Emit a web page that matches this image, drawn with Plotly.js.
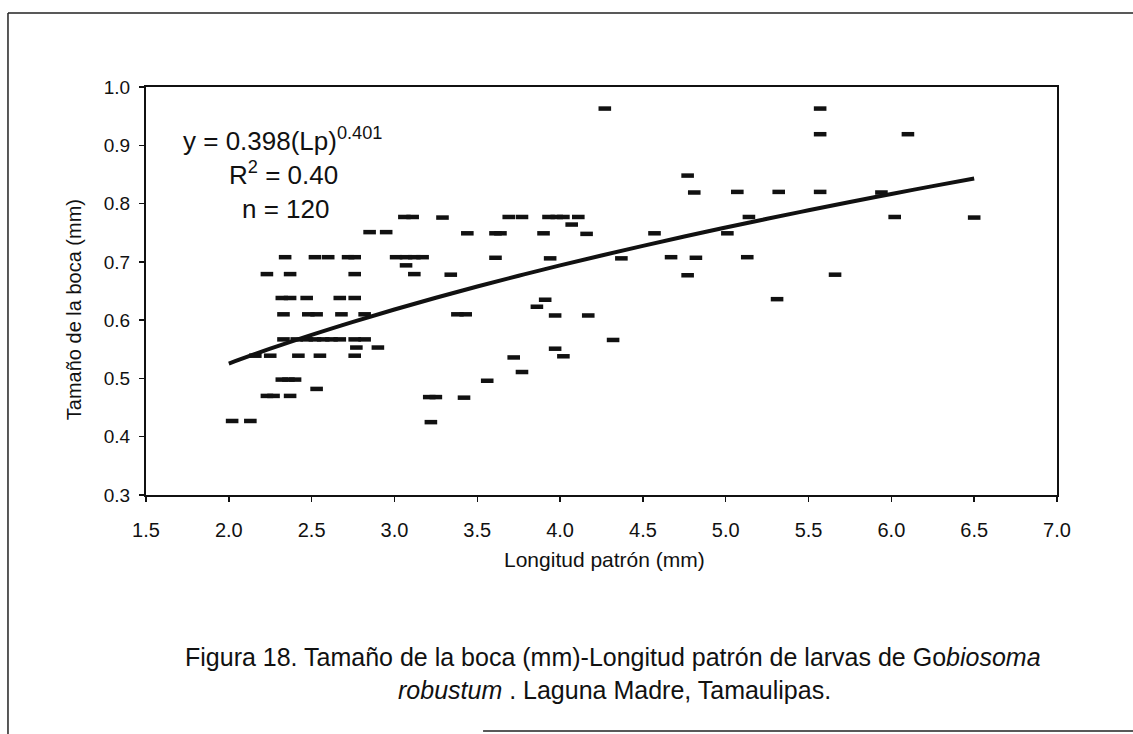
<!DOCTYPE html>
<html>
<head>
<meta charset="utf-8">
<script src="https://cdn.plot.ly/plotly-3.0.1.min.js"></script>
<style>
  html, body { margin: 0; padding: 0; background: #ffffff; }
  #chart { width: 1133px; height: 734px; }
</style>
</head>
<body>
<div id="chart"></div>
<script>
// Longitud patrón (mm) de cada larva medida
const longitudPatron = [
  2.02, 2.13,
  2.23, 2.27, 2.37,
  2.53,
  2.32, 2.36, 2.40,
  2.16, 2.25, 2.42, 2.55, 2.76,
  2.77, 2.90,
  2.33, 2.41, 2.47, 2.52, 2.57, 2.62, 2.67, 2.76, 2.82,
  2.33, 2.48, 2.53, 2.68, 2.82,
  2.32, 2.37, 2.47, 2.67, 2.76,
  2.23, 2.37, 2.76,
  2.34, 2.52, 2.60, 2.72, 2.76,
  2.85, 2.95,
  3.01, 3.07, 3.12, 3.17,
  3.07,
  3.12, 3.34,
  3.06, 3.11, 3.29,
  3.44,
  3.38, 3.43,
  3.21, 3.25, 3.42,
  3.22,
  3.69, 3.77, 3.93, 3.98, 4.02, 4.11,
  4.07,
  3.61, 3.64, 3.90, 4.16,
  3.61, 3.94, 4.37,
  3.91, 3.86, 3.97, 4.17,
  4.32, 3.97, 4.02, 3.72, 3.77, 3.56,
  4.27,
  4.57, 4.67, 4.77, 4.77, 4.81, 4.82,
  5.01, 5.07, 5.13, 5.14, 5.31, 5.32,
  5.57, 5.57, 5.57, 5.66,
  5.94, 6.02, 6.10, 6.50
];

// Tamaño de la boca (mm) de cada larva, en el mismo orden
const tamanoBoca = [
  0.427, 0.427,
  0.470, 0.470, 0.470,
  0.482,
  0.498, 0.498, 0.498,
  0.539, 0.539, 0.539, 0.539, 0.539,
  0.553, 0.553,
  0.567, 0.567, 0.567, 0.567, 0.567, 0.567, 0.567, 0.567, 0.567,
  0.610, 0.610, 0.610, 0.610, 0.610,
  0.638, 0.638, 0.638, 0.638, 0.638,
  0.679, 0.679, 0.679,
  0.708, 0.708, 0.708, 0.708, 0.708,
  0.751, 0.751,
  0.708, 0.708, 0.708, 0.708,
  0.694,
  0.679, 0.678,
  0.777, 0.777, 0.776,
  0.749,
  0.610, 0.610,
  0.468, 0.468, 0.467,
  0.425,
  0.777, 0.777, 0.777, 0.777, 0.777, 0.777,
  0.764,
  0.749, 0.749, 0.749, 0.748,
  0.707, 0.706, 0.706,
  0.635, 0.623, 0.608, 0.608,
  0.566, 0.551, 0.538, 0.536, 0.511, 0.496,
  0.963,
  0.749, 0.708, 0.848, 0.677, 0.819, 0.707,
  0.749, 0.820, 0.708, 0.777, 0.636, 0.820,
  0.963, 0.919, 0.820, 0.678,
  0.819, 0.777, 0.919, 0.776
];

// Ajuste potencial: y = a * (Lp)^b, trazado sobre el intervalo de longitudes medidas
const ajusteA = 0.398;
const ajusteB = 0.401;
const ajusteX = [2.0, 2.25, 2.5, 2.75, 3.0, 3.25, 3.5, 3.75, 4.0, 4.25, 4.5, 4.75, 5.0, 5.25, 5.5, 5.75, 6.0, 6.25, 6.5];
const ajusteY = ajusteX.map(function (x) { return ajusteA * Math.pow(x, ajusteB); });

// Marcas de los ejes
const ticksX = [1.5, 2.0, 2.5, 3.0, 3.5, 4.0, 4.5, 5.0, 5.5, 6.0, 6.5, 7.0];
const ticksY = [0.3, 0.4, 0.5, 0.6, 0.7, 0.8, 0.9, 1.0];
const etiquetasX = ticksX.map(function (v) { return v.toFixed(1); });
const etiquetasY = ticksY.map(function (v) { return v.toFixed(1); });

const FUENTE = 'Liberation Sans, Arial, Helvetica, sans-serif';
const TINTA = '#111111';

const trazas = [
  {
    type: 'scatter',
    mode: 'lines',
    x: ajusteX,
    y: ajusteY,
    line: { color: TINTA, width: 4, shape: 'spline' },
    hoverinfo: 'skip',
    showlegend: false
  },
  {
    type: 'scatter',
    mode: 'markers',
    x: longitudPatron,
    y: tamanoBoca,
    marker: {
      symbol: 'line-ew',
      size: 9,
      color: TINTA,
      line: { color: TINTA, width: 4.5 }
    },
    showlegend: false
  }
];

function ejeBase(rango, vals, textos) {
  return {
    range: rango,
    tickmode: 'array',
    tickvals: vals,
    ticktext: textos,
    ticks: 'outside',
    ticklen: 5,
    tickwidth: 1.5,
    tickcolor: TINTA,
    showline: true,
    linecolor: TINTA,
    linewidth: 2,
    mirror: true,
    showgrid: false,
    zeroline: false,
    fixedrange: true
  };
}

const ejeX = ejeBase([1.5, 7.0], ticksX, etiquetasX);
ejeX.tickfont = { family: FUENTE, size: 20, color: TINTA };
ejeX.ticklabelstandoff = 11;

const ejeY = ejeBase([0.3, 1.0], ticksY, etiquetasY);
ejeY.tickfont = { family: FUENTE, size: 19, color: TINTA };
ejeY.ticklabelstandoff = 5;

function texto(t, x, y, size, extra) {
  const a = {
    text: t,
    xref: 'paper', yref: 'paper',
    x: x, y: y,
    xanchor: 'center', yanchor: 'middle',
    showarrow: false,
    font: { family: FUENTE, size: size, color: TINTA }
  };
  if (extra) { Object.keys(extra).forEach(function (k) { a[k] = extra[k]; }); }
  return a;
}

const anotaciones = [
  texto('y = 0.398(Lp)<sup>0.401</sup>', 0.150, 0.871, 26),
  texto('R<sup>2</sup> = 0.40', 0.151, 0.788, 26),
  texto('n = 120', 0.153, 0.700, 26),
  texto('Tamaño de la boca (mm)', -0.079, 0.453, 20, { textangle: -90 }),
  texto('Longitud patrón (mm)', 0.503, -0.157, 21),
  texto('Figura 18. Tamaño de la boca (mm)-Longitud patrón de larvas de Go<i>biosoma</i>', 0.513, -0.398, 25),
  texto('<i>robustum</i> . Laguna Madre, Tamaulipas.', 0.514, -0.477, 25)
];

// Marco exterior de la figura
const marco = { color: '#222222', width: 1.5 };
const formas = [
  { type: 'line', xref: 'paper', yref: 'paper', x0: -0.1515, x1: 1.10, y0: 1.1814, y1: 1.1814, line: marco },
  { type: 'line', xref: 'paper', yref: 'paper', x0: -0.1515, x1: -0.1515, y0: 1.1814, y1: -0.60, line: marco },
  { type: 'line', xref: 'paper', yref: 'paper', x0: 0.37, x1: 1.10, y0: -0.5784, y1: -0.5784, line: marco }
];

const layout = {
  width: 1133,
  height: 734,
  margin: { l: 146, r: 76, t: 87, b: 239, pad: 0 },
  paper_bgcolor: '#ffffff',
  plot_bgcolor: '#ffffff',
  xaxis: ejeX,
  yaxis: ejeY,
  annotations: anotaciones,
  shapes: formas,
  showlegend: false,
  hovermode: false
};

Plotly.newPlot('chart', trazas, layout, { displayModeBar: false, staticPlot: true });
</script>
</body>
</html>
